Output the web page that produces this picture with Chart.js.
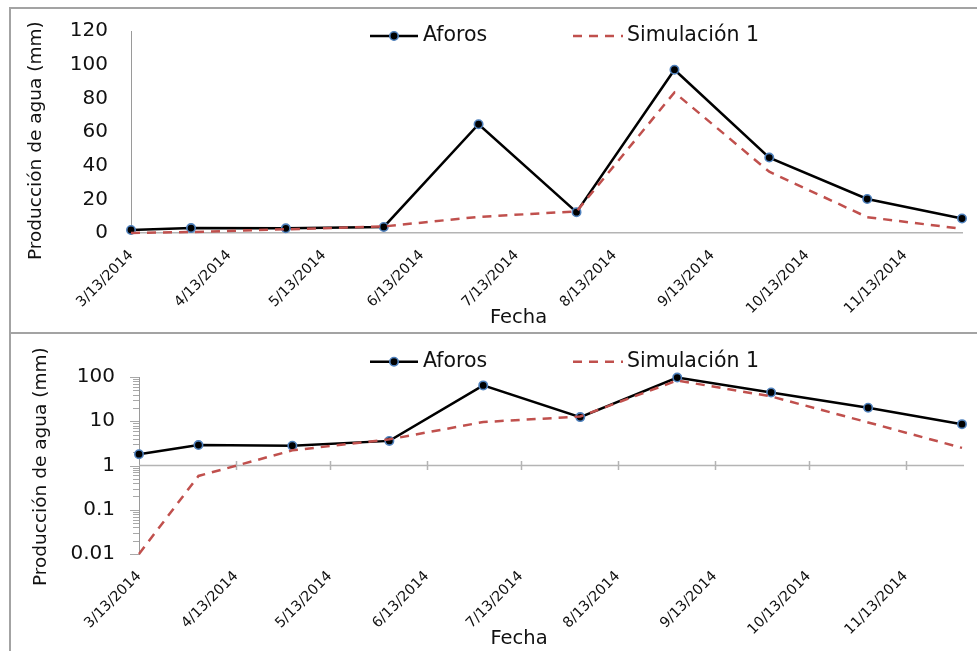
<!DOCTYPE html>
<html>
<head>
<meta charset="utf-8">
<script src="https://cdn.jsdelivr.net/npm/chart.js@4/dist/chart.umd.min.js"></script>
<style>
  html, body { margin: 0; padding: 0; background: #fff; overflow: hidden; }
  body { width: 977px; height: 651px; position: relative; }
  canvas { position: absolute; left: 0; }
  #c1 { top: 7px; }
  #c2 { top: 333px; }
  .marco-v { position: absolute; left: 9px; top: 7px; width: 2px; height: 644px; background: #a3a3a3; }
  .marco-h { position: absolute; left: 9px; width: 968px; height: 2px; background: #a3a3a3; }
</style>
</head>
<body>
<canvas id="c1" width="977" height="326"></canvas>
<canvas id="c2" width="977" height="318"></canvas>
<div class="marco-v"></div>
<div class="marco-h" style="top:7px"></div>
<div class="marco-h" style="top:332px"></div>
<script>
// Fechas de medición y producción de agua (mm)
const fechas = ['2014-03-13', '2014-04-01', '2014-05-01', '2014-06-01', '2014-07-01',
                '2014-08-01', '2014-09-01', '2014-10-01', '2014-11-01', '2014-12-01'];
const aforos = [1.8, 2.9, 2.8, 3.6, 64.6, 12.4, 97, 44.8, 20.2, 8.6];
const simulacion1 = [0.01, 0.58, 2.2, 3.9, 9.6, 12.8, 83.5, 36.4, 9.4, 2.5];

// Etiquetas de los ejes
const etiquetasFecha = ['3/13/2014', '4/13/2014', '5/13/2014', '6/13/2014', '7/13/2014',
                        '8/13/2014', '9/13/2014', '10/13/2014', '11/13/2014'];
const finEjeFecha = '2014-12-01';
const ticksLineal = [0, 20, 40, 60, 80, 100, 120];
const ticksLog = ['0.01', '0.1', '1', '10', '100'];
const nombresSeries = ['Aforos', 'Simulación 1'];
const tituloEjeX = 'Fecha';
const tituloEjeY = 'Producción de agua (mm)';

const FUENTE = '"DejaVu Sans", sans-serif';
const TEXTO = '#111111';
const NEGRO = '#000000';
const AZUL = '#4f81bd';
const ROJO = '#c0504d';
const GUION = [9, 7];

const DIA = 86400000;
const inicio = Date.parse(fechas[0]);
const dias = f => (Date.parse(f) - inicio) / DIA;
const diasEtiqueta = s => {
  const [m, d, y] = s.split('/').map(Number);
  return (Date.UTC(y, m - 1, d) - inicio) / DIA;
};

function series() {
  return [
    {
      label: nombresSeries[0],
      data: fechas.map((f, i) => ({ x: dias(f), y: aforos[i] })),
      borderColor: NEGRO, borderWidth: 2.5,
      pointRadius: 4.2, pointBackgroundColor: NEGRO,
      pointBorderColor: AZUL, pointBorderWidth: 1.6,
      tension: 0, clip: false, order: 1
    },
    {
      label: nombresSeries[1],
      data: fechas.map((f, i) => ({ x: dias(f), y: simulacion1[i] })),
      borderColor: ROJO, borderWidth: 2.5, borderDash: GUION,
      pointRadius: 0, tension: 0, clip: false, order: 0
    }
  ];
}

function ejeX(alto, conBorde) {
  return {
    type: 'linear', min: 0, max: dias(finEjeFecha),
    afterBuildTicks: s => { s.ticks = etiquetasFecha.map(e => ({ value: diasEtiqueta(e) })); },
    afterFit: s => { s.height = alto; },
    grid: { display: false, drawTicks: false },
    border: { display: conBorde, color: '#b4b4b4', width: 1.5 },
    ticks: {
      autoSkip: false, minRotation: 45, maxRotation: 45, padding: 14,
      color: TEXTO, font: { family: FUENTE, size: 14.3 },
      callback: (v, i) => etiquetasFecha[i]
    }
  };
}

// Eje Y: separación de las etiquetas mediante marcas invisibles
function rejillaY(separacion) {
  return {
    display: true, drawOnChartArea: false, drawTicks: true,
    tickLength: separacion, tickColor: 'rgba(0,0,0,0)', color: 'rgba(0,0,0,0)'
  };
}

// Decoración: leyenda, títulos de ejes, eje en 1 y marcas del eje logarítmico
const decoracion = {
  id: 'decoracion',
  beforeDatasetsDraw(chart, args, o) {
    const ctx = chart.ctx;
    const { x, y } = chart.scales;
    const area = chart.chartArea;
    if (o.ejeEnUno) {
      const y1 = y.getPixelForValue(1);
      ctx.save();
      ctx.strokeStyle = '#b4b4b4';
      ctx.lineWidth = 1.5;
      ctx.beginPath();
      ctx.moveTo(area.left, y1);
      ctx.lineTo(area.right + 2, y1);
      x.ticks.forEach((t, i) => {
        if (i === 0) return;
        const px = Math.round(x.getPixelForValue(t.value)) + 0.5;
        ctx.moveTo(px, y1 - 4.5);
        ctx.lineTo(px, y1 + 4.5);
      });
      ctx.stroke();
      // marcas mayores y menores del eje Y
      ctx.strokeStyle = '#a8a8a8';
      ctx.lineWidth = 1;
      ctx.beginPath();
      y.ticks.forEach((t, i) => {
        const py = Math.round(y.getPixelForValue(t.value)) + 0.5;
        const largo = (i % 9 === 0) ? 9 : 6;
        ctx.moveTo(area.left - largo, py);
        ctx.lineTo(area.left, py);
      });
      ctx.stroke();
      ctx.restore();
    }
  },
  afterDraw(chart, args, o) {
    const ctx = chart.ctx;
    const ds = chart.data.datasets;
    ctx.save();
    // Leyenda
    const ly = o.leyendaY;
    ctx.lineWidth = 2.5;
    ctx.strokeStyle = ds[0].borderColor;
    ctx.beginPath(); ctx.moveTo(370, ly); ctx.lineTo(418, ly); ctx.stroke();
    ctx.beginPath(); ctx.arc(394, ly, 4.2, 0, Math.PI * 2);
    ctx.fillStyle = ds[0].pointBackgroundColor; ctx.fill();
    ctx.lineWidth = 1.6; ctx.strokeStyle = ds[0].pointBorderColor; ctx.stroke();
    ctx.lineWidth = 2.5; ctx.strokeStyle = ds[1].borderColor; ctx.setLineDash(ds[1].borderDash);
    ctx.beginPath(); ctx.moveTo(573, ly); ctx.lineTo(623, ly); ctx.stroke();
    ctx.setLineDash([]);
    ctx.fillStyle = TEXTO;
    ctx.font = '20.5px ' + FUENTE;
    ctx.textBaseline = 'middle';
    ctx.textAlign = 'left';
    ctx.fillText(ds[0].label, 423, ly);
    ctx.fillText(ds[1].label, 627, ly);
    // Título eje X
    ctx.textAlign = 'center';
    ctx.font = '19.5px ' + FUENTE;
    ctx.fillText(tituloEjeX, o.tituloX.x, o.tituloX.y);
    // Título eje Y
    ctx.translate(o.tituloY.x, o.tituloY.y);
    ctx.rotate(-Math.PI / 2);
    ctx.font = '18.5px ' + FUENTE;
    ctx.fillText(tituloEjeY, 0, 0);
    ctx.restore();
  }
};

const base = {
  responsive: false, animation: false, devicePixelRatio: 1, events: []
};

// Escala lineal
new Chart(document.getElementById('c1'), {
  type: 'line',
  data: { datasets: series() },
  plugins: [decoracion],
  options: Object.assign({}, base, {
    layout: { padding: { left: 0, right: 15, top: 24, bottom: 0 } },
    plugins: {
      legend: { display: false }, tooltip: { enabled: false },
      decoracion: { leyendaY: 29, tituloX: { x: 518.5, y: 310.5 }, tituloY: { x: 36, y: 133.7 }, ejeEnUno: false }
    },
    scales: {
      x: ejeX(100, true),
      y: {
        type: 'linear', min: 0, max: 120,
        afterBuildTicks: s => { s.ticks = ticksLineal.map(v => ({ value: v })); },
        afterFit: s => { s.width = 131; },
        grid: rejillaY(20),
        border: { display: true, color: '#9a9a9a', width: 1 },
        ticks: { padding: 3, color: TEXTO, font: { family: FUENTE, size: 20 } }
      }
    }
  })
});

// Escala logarítmica
new Chart(document.getElementById('c2'), {
  type: 'line',
  data: { datasets: series() },
  plugins: [decoracion],
  options: Object.assign({}, base, {
    layout: { padding: { left: 0, right: 15, top: 44, bottom: 0 } },
    plugins: {
      legend: { display: false }, tooltip: { enabled: false },
      decoracion: { leyendaY: 28.7, tituloX: { x: 519, y: 305.7 }, tituloY: { x: 41, y: 133.7 }, ejeEnUno: true }
    },
    scales: {
      x: ejeX(97, false),
      y: {
        type: 'logarithmic', min: 0.01, max: 100,
        afterBuildTicks: s => {
          const t = [];
          for (let e = -2; e < 2; e++) {
            for (let m = 1; m <= 9; m++) t.push({ value: m * Math.pow(10, e) });
          }
          t.push({ value: 100 });
          s.ticks = t;
        },
        afterFit: s => { s.width = 139; },
        grid: rejillaY(21),
        border: { display: true, color: '#9a9a9a', width: 1 },
        ticks: {
          autoSkip: false, padding: 3, color: TEXTO, font: { family: FUENTE, size: 20 },
          callback: (v, i) => (i % 9 === 0 ? ticksLog[i / 9] : '')
        }
      }
    }
  })
});
</script>
</body>
</html>
